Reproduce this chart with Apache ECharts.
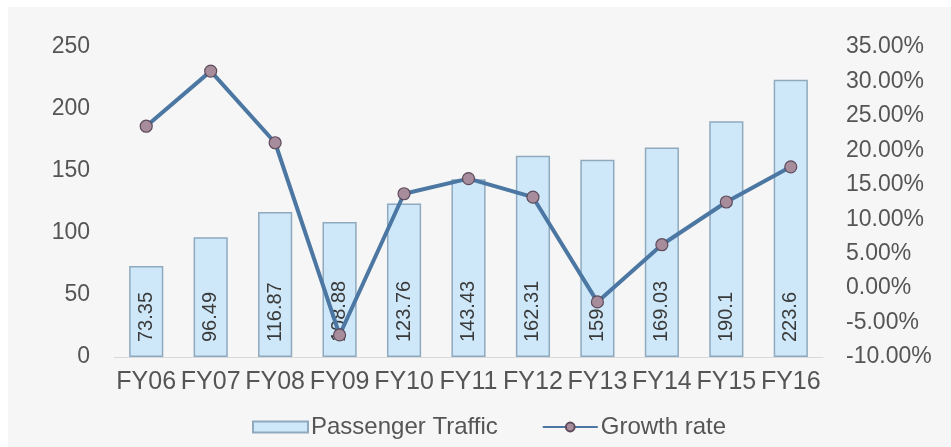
<!DOCTYPE html>
<html>
<head>
<meta charset="utf-8">
<script src="https://cdn.jsdelivr.net/npm/echarts@6/dist/echarts.min.js"></script>
<style>
  html, body { margin: 0; padding: 0; background: #ffffff; }
  #chart { width: 951px; height: 447px; }
</style>
</head>
<body>
<div id="chart"></div>
<script>
// Passenger traffic (bars, left axis) and year-on-year growth (line, right axis)
var categories = ['FY06', 'FY07', 'FY08', 'FY09', 'FY10', 'FY11', 'FY12', 'FY13', 'FY14', 'FY15', 'FY16'];
var passengerTraffic = [73.35, 96.49, 116.87, 108.88, 123.76, 143.43, 162.31, 159, 169.03, 190.1, 223.6];
var growthRate = [23.5, 31.5, 21.1, -6.8, 13.7, 15.9, 13.2, -2.0, 6.3, 12.5, 17.6]; // percent
var leftTicks = { min: 0, max: 250, interval: 50 };
var rightTicks = { min: -10, max: 35, interval: 5 };

var FONT = '"Liberation Sans", Arial, sans-serif';
var TEXT = '#555555';

var chart = echarts.init(document.getElementById('chart'), null, { renderer: 'canvas' });

chart.setOption({
  backgroundColor: '#ffffff',
  animation: false,
  graphic: [{
    type: 'rect',
    z: -10,
    silent: true,
    shape: { x: 8, y: 7, width: 951, height: 447 },
    style: { fill: '#f6f6f6' }
  }],
  textStyle: { fontFamily: FONT },
  grid: { left: 114, right: 128, top: 47, bottom: 90 },
  legend: {
    bottom: 3,
    left: 247,
    itemGap: 44,
    itemWidth: 55,
    itemHeight: 11,
    textStyle: { fontFamily: FONT, fontSize: 24, color: TEXT, padding: [0, 0, 0, -2] },
    data: [
      { name: 'Passenger Traffic', icon: 'rect' },
      { name: 'Growth rate' }
    ]
  },
  xAxis: {
    type: 'category',
    data: categories,
    axisLine: { show: true, lineStyle: { color: '#d9d9d9', width: 1 } },
    axisTick: { show: false },
    axisLabel: { interval: 0, color: TEXT, fontFamily: FONT, fontSize: 25, margin: 13 }
  },
  yAxis: [{
    type: 'value',
    min: leftTicks.min, max: leftTicks.max, interval: leftTicks.interval,
    splitLine: { show: false },
    axisLine: { show: false },
    axisTick: { show: false },
    axisLabel: { color: TEXT, fontFamily: FONT, fontSize: 23, margin: 24 }
  }, {
    type: 'value',
    min: rightTicks.min, max: rightTicks.max, interval: rightTicks.interval,
    splitLine: { show: false },
    axisLine: { show: false },
    axisTick: { show: false },
    axisLabel: {
      color: TEXT, fontFamily: FONT, fontSize: 23, margin: 23,
      formatter: function (v) { return v.toFixed(2) + '%'; }
    }
  }],
  series: [{
    name: 'Passenger Traffic',
    type: 'bar',
    yAxisIndex: 0,
    barWidth: '53%',
    data: passengerTraffic,
    itemStyle: { color: '#cfe8f9', borderColor: '#8fa9bf', borderWidth: 1.5 },
    label: {
      show: true,
      position: 'insideBottom',
      rotate: 90,
      align: 'left',
      verticalAlign: 'middle',
      distance: 15,
      color: '#3a3a3a',
      fontFamily: FONT,
      fontSize: 20,
      formatter: function (p) { return String(p.value); }
    },
    z: 2
  }, {
    name: 'Growth rate',
    type: 'line',
    yAxisIndex: 1,
    data: growthRate,
    symbol: 'circle',
    symbolSize: 12,
    lineStyle: { color: '#4b77a2', width: 4 },
    itemStyle: { color: '#a78c9c', borderColor: '#5d4b5c', borderWidth: 1.2 },
    z: 5
  }]
});
</script>
</body>
</html>
